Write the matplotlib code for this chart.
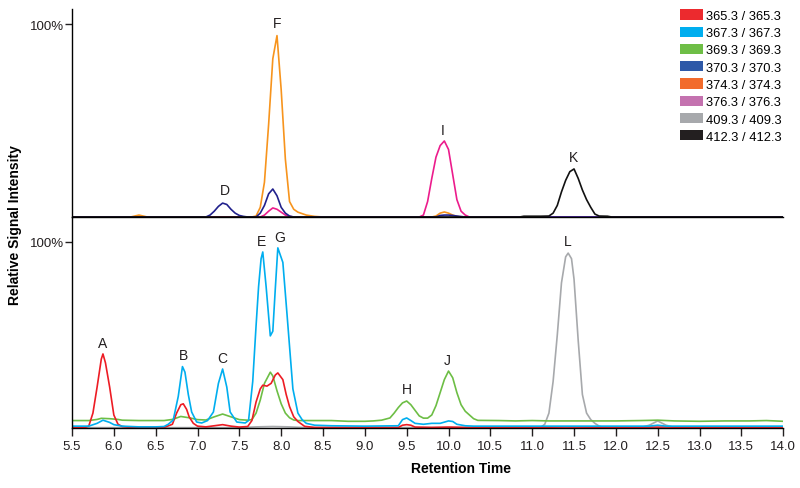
import numpy as np
import matplotlib
matplotlib.use("Agg")
import matplotlib.pyplot as plt
from matplotlib.patches import Patch

plt.rcParams['font.family'] = ['Liberation Sans', 'DejaVu Sans']

# ======= LEGEND ===========
transitions = ["365.3 / 365.3", "367.3 / 367.3", "369.3 / 369.3", "370.3 / 370.3",
               "374.3 / 374.3", "376.3 / 376.3", "409.3 / 409.3", "412.3 / 412.3"]
legend_colors = ["#EC2A2E", "#00AEEF", "#6EBE46", "#2E59A8",
                 "#F26B2C", "#C472AF", "#A7A9AC", "#231F20"]

# ======= TOP PANEL TRACES (time in min, signal in %) ===========
top_orange_t = [5.5, 6.20, 6.25, 6.30, 6.35, 6.40, 7.65, 7.70, 7.75, 7.80, 7.85, 7.90, 7.95,
                8.00, 8.05, 8.10, 8.15, 8.20, 8.30, 8.40, 8.50, 9.80, 9.85, 9.90, 9.95,
                10.00, 10.05, 10.10, 10.15, 14.0]
top_orange_y = [0, 0, 0.5, 1.0, 0.5, 0, 0, 0.5, 5, 18, 48, 82, 94,
                66, 30, 8, 4, 2.5, 1, 0.3, 0, 0, 0.5, 2, 2.6,
                2, 1, 0.3, 0, 0]

top_navy_t = [5.5, 7.10, 7.15, 7.20, 7.25, 7.30, 7.35, 7.40, 7.45, 7.50, 7.55, 7.60,
              7.70, 7.75, 7.80, 7.85, 7.90, 7.95, 8.00, 8.05, 8.10, 8.15,
              9.85, 9.90, 9.95, 10.00, 10.05, 10.10, 10.20, 14.0]
top_navy_y = [0, 0, 1, 3, 5.5, 7.2, 6.5, 4, 2, 0.8, 0.3, 0,
              0, 2, 6, 12, 14.5, 11, 5, 2, 0.5, 0,
              0, 0.8, 1.0, 1.0, 0.8, 0.5, 0, 0]

top_pink_t = [5.5, 7.75, 7.80, 7.85, 7.90, 7.95, 8.00, 8.05, 8.10, 8.15,
              9.65, 9.70, 9.75, 9.80, 9.85, 9.90, 9.95, 10.00, 10.05, 10.10, 10.15,
              10.20, 10.25, 14.0]
top_pink_y = [0, 0, 1, 3, 4.7, 4, 2.5, 1, 0.3, 0,
              0, 1, 8, 20, 31, 37, 39.4, 35, 22, 9, 3,
              1, 0, 0]

top_black_t = [5.5, 10.85, 10.90, 11.00, 11.10, 11.20, 11.25, 11.30, 11.35, 11.40, 11.45,
               11.50, 11.55, 11.60, 11.65, 11.70, 11.75, 11.80, 11.90, 11.95, 14.0]
top_black_y = [0, 0, 0.4, 0.4, 0.4, 0.5, 2, 6, 13, 19, 23.5,
               24.9, 20, 14, 9, 5, 1.5, 0.5, 0.4, 0, 0]

# ======= BOTTOM PANEL TRACES ===========
bot_red_t = [5.5, 5.65, 5.70, 5.75, 5.80, 5.85, 5.87, 5.90, 5.95, 6.00, 6.05, 6.10, 6.20,
             6.60, 6.70, 6.75, 6.80, 6.83, 6.87, 6.90, 6.95, 7.00, 7.10, 7.20, 7.30, 7.40,
             7.50, 7.60, 7.65, 7.70, 7.75, 7.78, 7.83, 7.88, 7.93, 7.96, 8.02, 8.06, 8.10,
             8.15, 8.20, 8.28, 8.40, 9.40, 9.45, 9.50, 9.55, 9.60, 9.80, 10.00, 10.20,
             11.00, 11.40, 12.00, 12.60, 13.00, 14.0]
bot_red_y = [0.2, 0.2, 1, 8, 22, 37, 39.8, 35, 22, 7, 2, 0.8, 0.3,
             0.3, 2, 8, 12.5, 13, 10, 6, 2.5, 1.0, 0.6, 1.2, 1.8, 1.0,
             0.5, 0.8, 4, 14, 21, 23, 22.5, 24, 28.5, 29.6, 26, 18, 11.5,
             6, 3.5, 0.9, 0.3, 0.3, 1.5, 1.8, 1.5, 0.5, 0.3, 0.5, 0.3,
             0.4, 0.5, 0.4, 0.5, 0.3, 0.2]

bot_blue_t = [5.5, 5.70, 5.80, 5.87, 5.95, 6.00, 6.10, 6.30, 6.50, 6.60, 6.65, 6.71, 6.77,
              6.82, 6.85, 6.89, 6.93, 6.99, 7.05, 7.12, 7.19, 7.25, 7.30, 7.35, 7.39,
              7.47, 7.57, 7.61, 7.66, 7.70, 7.73, 7.76, 7.78, 7.82, 7.87, 7.90, 7.93,
              7.96, 8.02, 8.07, 8.14, 8.20, 8.25, 8.30, 8.40, 8.60, 9.00, 9.40, 9.45,
              9.50, 9.55, 9.60, 9.70, 9.80, 9.90, 10.00, 10.05, 10.10, 10.20, 10.30,
              12.40, 12.50, 12.60, 14.0]
bot_blue_y = [1.0, 1.0, 2.5, 4.2, 3.0, 1.8, 1.0, 0.6, 0.6, 0.8, 2, 4.3, 17,
              33, 30, 18, 8.6, 3.2, 2.7, 4, 8.6, 24, 31.7, 22, 8.6,
              3.2, 2.7, 4, 25, 55, 76, 91, 94.6, 76, 49.5, 52, 75,
              96.8, 89, 61, 21, 8, 4.5, 2.5, 1.5, 1.2, 1.0, 1.2, 4.5,
              5.4, 4.0, 2.5, 2.0, 2.5, 2.5, 3.8, 3.5, 2.0, 1.2, 1.0,
              1.0, 1.5, 1.0, 1.0]

bot_green_t = [5.5, 5.70, 5.80, 5.85, 5.95, 6.05, 6.10, 6.30, 6.50, 6.60, 6.70, 6.80, 6.90,
               7.00, 7.10, 7.20, 7.30, 7.40, 7.50, 7.60, 7.65, 7.70, 7.75, 7.80, 7.87,
               7.90, 7.95, 8.00, 8.05, 8.10, 8.15, 8.20, 8.40, 8.60, 8.80, 9.00, 9.10,
               9.20, 9.30, 9.35, 9.40, 9.45, 9.50, 9.55, 9.60, 9.65, 9.70, 9.75, 9.80,
               9.85, 9.90, 9.95, 10.00, 10.05, 10.10, 10.15, 10.20, 10.25, 10.30, 10.35,
               10.60, 10.80, 11.00, 11.20, 11.50, 12.00, 12.30, 12.50, 12.70, 13.00,
               13.30, 13.60, 13.80, 14.0]
bot_green_y = [4.0, 4.0, 4.6, 5.2, 5.0, 4.6, 4.2, 4.0, 4.0, 4.0, 4.6, 6.2, 5.5,
               4.5, 4.3, 6.0, 7.5, 6.0, 4.5, 4.2, 4.5, 8, 15, 24, 30,
               28, 20, 13, 8, 5.5, 4.3, 4.0, 4.0, 4.0, 3.6, 3.6, 3.8,
               4.2, 5.4, 8, 11, 13.5, 14.5, 12.5, 9.5, 6.5, 5.3, 5.3, 7,
               12, 19, 26, 30.6, 27, 19, 12.5, 9, 7, 5, 4.1,
               4.0, 3.8, 4.0, 3.8, 3.8, 3.8, 4.0, 4.2, 3.8, 3.6,
               3.8, 3.8, 4.0, 3.6]

bot_grey_t = [5.5, 7.50, 7.70, 7.90, 8.10, 8.30, 11.10, 11.15, 11.20, 11.25, 11.30, 11.35,
              11.40, 11.43, 11.47, 11.50, 11.55, 11.60, 11.65, 11.70, 11.75, 11.80, 11.85,
              12.30, 12.40, 12.50, 12.60, 12.70, 14.0]
bot_grey_y = [0.2, 0.2, 0.6, 0.8, 0.6, 0.2, 0.3, 2, 8, 25, 50, 78,
              92, 94, 91, 80, 47, 18, 8, 4.5, 2.5, 1, 0.3,
              0.3, 1.5, 3.8, 1.5, 0.3, 0.2]

# ======= PEAK LABELS ===========
top_labels = ["D", "F", "I", "K"]
top_label_t = [7.33, 7.95, 9.93, 11.49]
top_label_y = [10.5, 97, 41.5, 27.5]
bot_labels = ["A", "B", "C", "E", "G", "H", "J", "L"]
bot_label_t = [5.87, 6.83, 7.30, 7.76, 7.98, 9.50, 9.99, 11.43]
bot_label_y = [42, 35.5, 34, 96.5, 99, 17, 33, 96.5]

x_ticks = np.arange(5.5, 14.01, 0.5)

# ======= PLOT ===========
fig = plt.figure(figsize=(8, 4.89), dpi=100)
ax_top = fig.add_axes([0.09, 0.5542, 0.889, 0.4254])
ax_bot = fig.add_axes([0.09, 0.1227, 0.889, 0.4315])

lw = 1.2
ax_top.plot(top_orange_t, top_orange_y, color="#F7941D", lw=lw)
ax_top.plot(top_pink_t, top_pink_y, color="#EC1C8C", lw=lw)
ax_top.plot(top_navy_t, top_navy_y, color="#21218C", lw=lw)
ax_top.plot(top_black_t, top_black_y, color="#111111", lw=lw)

ax_bot.plot(bot_grey_t, bot_grey_y, color="#A7A9AC", lw=lw)
ax_bot.plot(bot_green_t, bot_green_y, color="#6DBE45", lw=lw)
ax_bot.plot(bot_red_t, bot_red_y, color="#ED1C24", lw=lw)
ax_bot.plot(bot_blue_t, bot_blue_y, color="#00AEEF", lw=lw)

for lab, t, y in zip(top_labels, top_label_t, top_label_y):
    ax_top.text(t, y, lab, ha="center", va="bottom", fontsize=10, color="#231F20")
for lab, t, y in zip(bot_labels, bot_label_t, bot_label_y):
    ax_bot.text(t, y, lab, ha="center", va="bottom", fontsize=10, color="#231F20")

for ax in (ax_top, ax_bot):
    ax.set_xlim(5.5, 14.0)
    ax.spines["top"].set_visible(False)
    ax.spines["right"].set_visible(False)
    ax.spines["left"].set_linewidth(1.0)
    ax.spines["bottom"].set_linewidth(1.0)
    ax.set_yticks([100])
    ax.set_yticklabels(["100%"])
    ax.tick_params(axis="y", length=5, width=1.0, pad=1, labelsize=9.5, colors="#231F20")
    ax.patch.set_alpha(0)

ax_top.set_ylim(0, 107.8)
ax_bot.set_ylim(0, 113.4)

ax_top.set_xticks([])
ax_bot.set_xticks(x_ticks)
ax_bot.set_xticklabels([f"{v:.1f}" for v in x_ticks])
ax_bot.tick_params(axis="x", length=6, width=1.0, pad=3, labelsize=9.5, colors="#231F20")

fig.text(0.576, 0.04, "Retention Time", ha="center", va="center",
         fontsize=10, fontweight="bold")
fig.text(0.019, 0.54, "Relative Signal Intensity", ha="center", va="center",
         rotation=90, fontsize=10, fontweight="bold")

handles = [Patch(facecolor=c, edgecolor="none") for c in legend_colors]
fig.legend(handles, transitions, loc="upper left", bbox_to_anchor=(0.85, 0.979),
           frameon=False, fontsize=9.3, handlelength=1.75, handleheight=0.85,
           handletextpad=0.25, labelspacing=0.36, borderaxespad=0, borderpad=0)

fig.savefig("out.png", dpi=100)
